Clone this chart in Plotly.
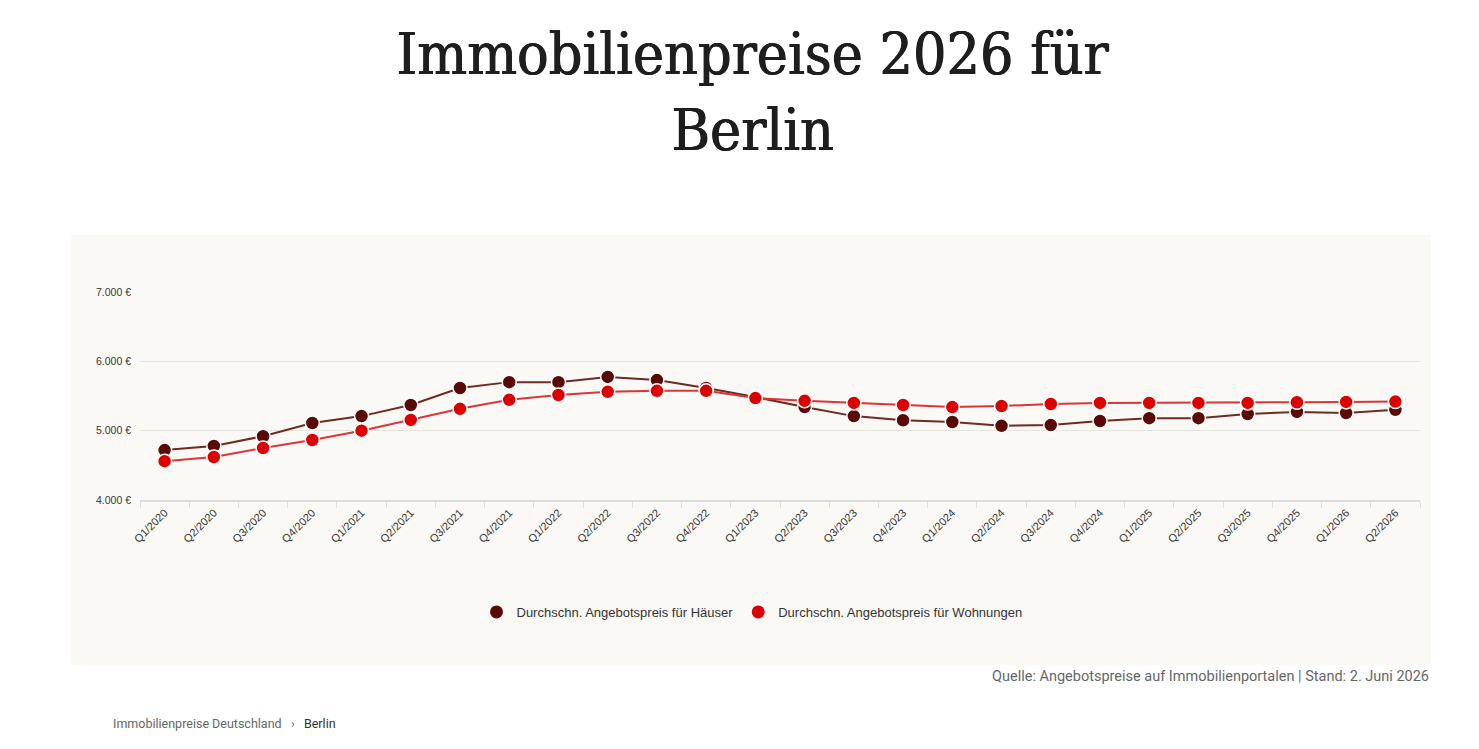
import plotly.graph_objects as go

quarters = ["Q1/2020", "Q2/2020", "Q3/2020", "Q4/2020",
            "Q1/2021", "Q2/2021", "Q3/2021", "Q4/2021",
            "Q1/2022", "Q2/2022", "Q3/2022", "Q4/2022",
            "Q1/2023", "Q2/2023", "Q3/2023", "Q4/2023",
            "Q1/2024", "Q2/2024", "Q3/2024", "Q4/2024",
            "Q1/2025", "Q2/2025", "Q3/2025", "Q4/2025",
            "Q1/2026", "Q2/2026"]
price_houses = [4720, 4780, 4920, 5110, 5210, 5370, 5615, 5700,
                5700, 5775, 5730, 5615, 5485, 5340, 5210, 5150,
                5125, 5070, 5080, 5140, 5180, 5180, 5240, 5270,
                5255, 5300]
price_flats = [4560, 4620, 4750, 4865, 5000, 5155, 5315, 5445,
               5515, 5560, 5575, 5575, 5470, 5430, 5400, 5370,
               5340, 5355, 5385, 5400, 5400, 5400, 5400, 5410,
               5415, 5420]
y_ticks = [4000, 5000, 6000, 7000]
y_tick_text = ["4.000 €", "5.000 €", "6.000 €", "7.000 €"]

W, H = 1479, 749
OFF = 8  # default body margin of the html page
box_bg = "#faf9f5"
c_houses, c_houses_line = "#5a0a06", "#6e2a24"
c_flats, c_flats_line = "#dc0000", "#d9363a"
name_houses = "Durchschn. Angebotspreis für Häuser"
name_flats = "Durchschn. Angebotspreis für Wohnungen"
title_col = "#1e1e1e"


def px_x(v):
    return (v - OFF) / W


def px_y(v):
    return 1 - (v - OFF) / H


fig = go.Figure()
for ys, name, col, lcol in [(price_houses, name_houses, c_houses, c_houses_line),
                            (price_flats, name_flats, c_flats, c_flats_line)]:
    fig.add_trace(go.Scatter(x=quarters, y=ys, name=name, showlegend=False,
                             mode="lines+markers",
                             line=dict(color=lcol, width=2),
                             marker=dict(color=col, size=14,
                                         line=dict(color="white", width=1.5))))
# legend entries: marker only, like the original
for name, col in [(name_houses, c_houses), (name_flats, c_flats)]:
    fig.add_trace(go.Scatter(x=[None], y=[None], name=name, mode="markers",
                             marker=dict(color=col, size=13)))

# chart card behind the plot
fig.add_shape(type="rect", xref="paper", yref="paper",
              x0=px_x(71), x1=px_x(1431), y0=px_y(665), y1=px_y(235),
              fillcolor=box_bg, line=dict(width=0), layer="below")

# a slight shadow thickens the regular serif towards the medium weight of the original
fig.add_annotation(text="Immobilienpreise 2026 für<br>Berlin",
                   xref="paper", yref="paper", x=px_x(752), y=px_y(92),
                   showarrow=False, xanchor="center", yanchor="middle",
                   font=dict(family="DejaVu Serif Condensed, Liberation Serif",
                             size=58.5, color=title_col,
                             shadow=f"1px 0px 0px {title_col}, 0.5px 0.4px 0px {title_col}"))
fig.add_annotation(text="Quelle: Angebotspreise auf Immobilienportalen | Stand: 2. Juni 2026",
                   xref="paper", yref="paper", x=px_x(1431), y=px_y(676),
                   showarrow=False, xanchor="right", yanchor="middle",
                   font=dict(family="Roboto", size=14.5, color="#666"))
fig.add_annotation(text="Immobilienpreise Deutschland &nbsp; &#8250; &nbsp; <span style='color:#333'>Berlin</span>",
                   xref="paper", yref="paper", x=px_x(111), y=px_y(723),
                   showarrow=False, xanchor="left", yanchor="middle",
                   font=dict(family="Roboto", size=12.5, color="#666"))

fig.update_layout(
    width=W, height=H,
    margin=dict(l=0, r=0, t=0, b=0, autoexpand=False),
    paper_bgcolor="white",
    plot_bgcolor=box_bg,
    showlegend=True,
    legend=dict(orientation="h", x=px_x(752), y=px_y(612), xanchor="center", yanchor="middle",
                font=dict(family="Liberation Sans", size=13, color="#333"),
                bgcolor="rgba(0,0,0,0)", itemwidth=30),
    xaxis=dict(domain=[px_x(140), px_x(1420)], type="category",
               range=[-0.5, len(quarters) - 0.5], automargin=False,
               showgrid=False, ticks="outside", tickson="boundaries",
               ticklen=6, tickcolor="#e0e0e0", tickangle=-45,
               showline=True, linecolor="#dcdcdc", linewidth=2,
               tickfont=dict(family="Liberation Sans", size=11, color="#333")),
    yaxis=dict(domain=[px_y(500), px_y(292)], range=[4000, 7000],
               tickvals=y_ticks, ticktext=y_tick_text, automargin=False,
               showgrid=True, gridcolor="#e6e4df", zeroline=False,
               tickfont=dict(family="Liberation Sans", size=10.5, color="#333"),
               ticklabelstandoff=8),
)

fig.write_html("out.html")
